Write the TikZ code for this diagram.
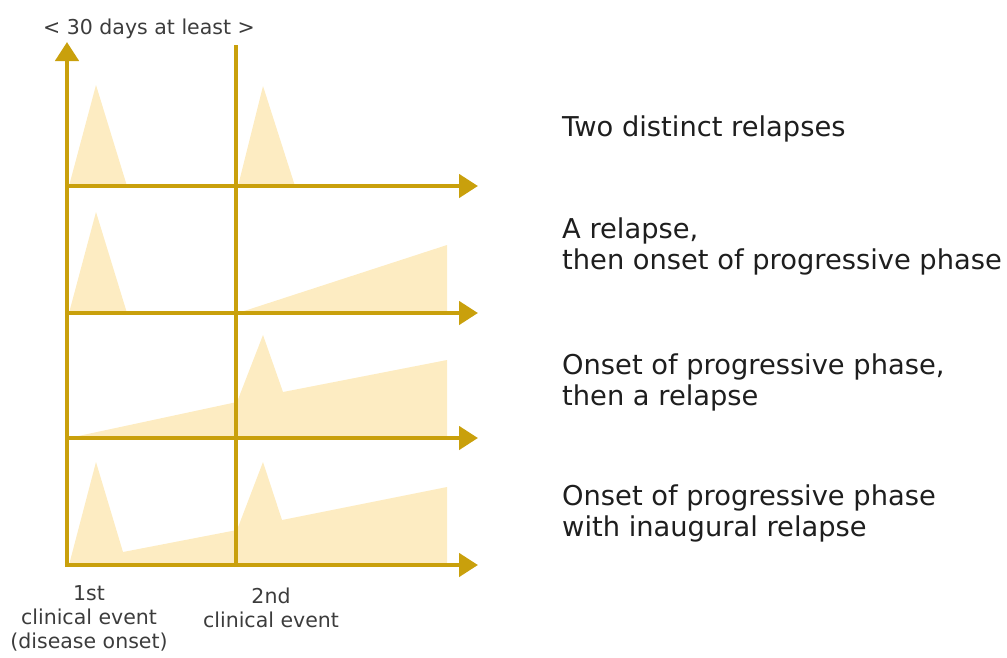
\documentclass[tikz,border=0pt]{standalone}
\usepackage{fontspec}
\setmainfont{DejaVu Sans}
\usetikzlibrary{arrows.meta}
\definecolor{gold}{RGB}{201,160,12}
\definecolor{pale}{RGB}{253,236,194}
\definecolor{txt}{RGB}{30,30,30}
\definecolor{gtxt}{RGB}{60,60,60}
\tikzset{
  axis/.style={draw=gold, line width=4.5pt},
  axisarrow/.style={axis, -{Triangle[length=19pt,width=23pt]}},
  wave/.style={fill=pale, draw=none},
  caselabel/.style={anchor=base west, inner sep=0pt, text=txt, font=\fontsize{27.3pt}{31pt}\selectfont},
  eventlabel/.style={anchor=base, inner sep=0pt, text=gtxt, font=\fontsize{20.5pt}{25pt}\selectfont},
}
\begin{document}
\begin{tikzpicture}[x=1pt,y=-1pt]
\useasboundingbox (0,0) rectangle (1007,657);
% fills
\fill[wave] (69,186) -- (96,85) -- (127,186) -- cycle;
\fill[wave] (238,186) -- (263,86) -- (295,186) -- cycle;
\fill[wave] (69,313) -- (96,212) -- (127,313) -- cycle;
\fill[wave] (238,313) -- (447,245) -- (447,313) -- cycle;
\fill[wave] (69,438) -- (237,402) -- (263,335) -- (283,392) -- (447,360) -- (447,438) -- cycle;
\fill[wave] (69,565) -- (96,462) -- (123,552) -- (237,530) -- (263,462) -- (282,520) -- (447,487) -- (447,565) -- cycle;
% axis coordinates
\coordinate (v1b) at (67,567);
\coordinate (v1t) at (67,42);
\coordinate (v2b) at (236,567);
\coordinate (v2t) at (236,45);
\foreach \i/\y in {1/186,2/313,3/438,4/565}{
  \coordinate (h\i s) at (65,\y);
  \coordinate (h\i e) at (478,\y);
}
\draw[axisarrow] (v1b) -- (v1t);
\draw[axis] (v2b) -- (v2t);
\foreach \i in {1,2,3,4}{
  \draw[axisarrow] (h\i s) -- (h\i e);
}
% labels
\node[eventlabel] (days) at (149,34) {< 30 days at least >};
\node[caselabel] (c1) at (562,136) {Two distinct relapses};
\node[caselabel] (c2a) at (562,238) {A relapse,};
\node[caselabel] (c2b) at (562,269) {then onset of progressive phase};
\node[caselabel] (c3a) at (562,374) {Onset of progressive phase,};
\node[caselabel] (c3b) at (562,405) {then a relapse};
\node[caselabel] (c4a) at (562,505) {Onset of progressive phase};
\node[caselabel] (c4b) at (562,536) {with inaugural relapse};
\node[eventlabel] (e1a) at (89,600) {1st};
\node[eventlabel] (e1b) at (89,624) {clinical event};
\node[eventlabel] (e1c) at (89,648) {(disease onset)};
\node[eventlabel] (e2a) at (271,603) {2nd};
\node[eventlabel] (e2b) at (271,627) {clinical event};
\end{tikzpicture}
\end{document}
